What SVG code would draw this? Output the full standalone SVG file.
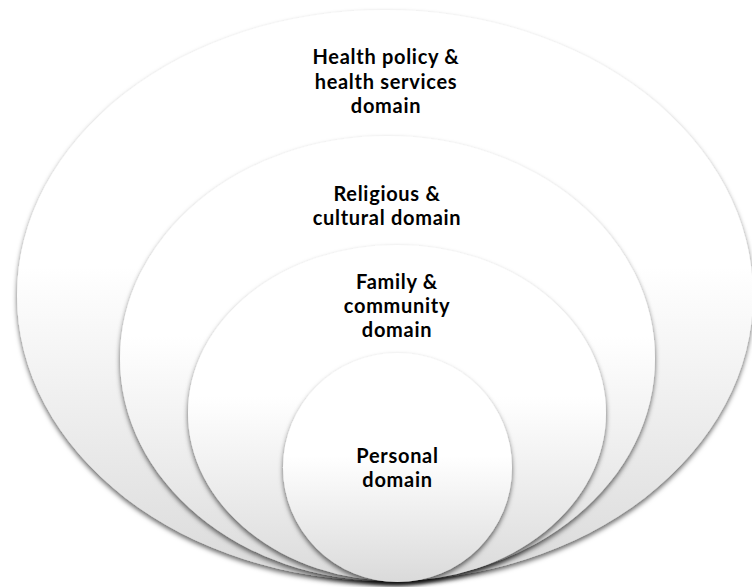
<svg xmlns="http://www.w3.org/2000/svg" width="752" height="587" viewBox="0 0 752 587">
  <defs>
    <linearGradient id="fillGrad" x1="0" y1="0" x2="0" y2="1">
      <stop offset="0" stop-color="#ffffff"/>
      <stop offset="0.45" stop-color="#ffffff"/>
      <stop offset="1" stop-color="#dadada"/>
    </linearGradient>
    <filter id="shadow" x="-10%" y="-10%" width="120%" height="125%">
      <feDropShadow dx="0" dy="3" stdDeviation="2.5" flood-color="#000000" flood-opacity="0.6"/>
    </filter>
  </defs>
  <style>
    .domain { fill: url(#fillGrad); filter: url(#shadow); }
    .label { font-family: "Lato", "Open Sans", "Liberation Sans", sans-serif; font-weight: bold; font-size: 20px; letter-spacing: 0.7px; fill: #000000; text-anchor: middle; }
  </style>
  <rect x="0" y="0" width="752" height="587" fill="#ffffff"/>
  <g id="health-policy-domain">
    <ellipse class="domain" cx="385" cy="295.5" rx="368" ry="285.5"/>
    <text class="label" x="386" y="64"><tspan x="386" y="64">Health policy &amp;</tspan><tspan x="386" y="89">health services</tspan><tspan x="386" y="113">domain</tspan></text>
  </g>
  <g id="religious-cultural-domain">
    <ellipse class="domain" cx="387.5" cy="358.5" rx="267.5" ry="222.5"/>
    <text class="label" x="387" y="201"><tspan x="387" y="201">Religious &amp;</tspan><tspan x="387" y="225">cultural domain</tspan></text>
  </g>
  <g id="family-community-domain">
    <ellipse class="domain" cx="397" cy="413" rx="209" ry="168"/>
    <text class="label" x="397" y="289"><tspan x="397" y="289">Family &amp;</tspan><tspan x="397" y="313">community</tspan><tspan x="397" y="337">domain</tspan></text>
  </g>
  <g id="personal-domain">
    <circle class="domain" cx="397.5" cy="467.5" r="114.5"/>
    <text class="label" x="397.5" y="463"><tspan x="397.5" y="463">Personal</tspan><tspan x="397.5" y="487">domain</tspan></text>
  </g>
  <g id="connectors"/>
</svg>
